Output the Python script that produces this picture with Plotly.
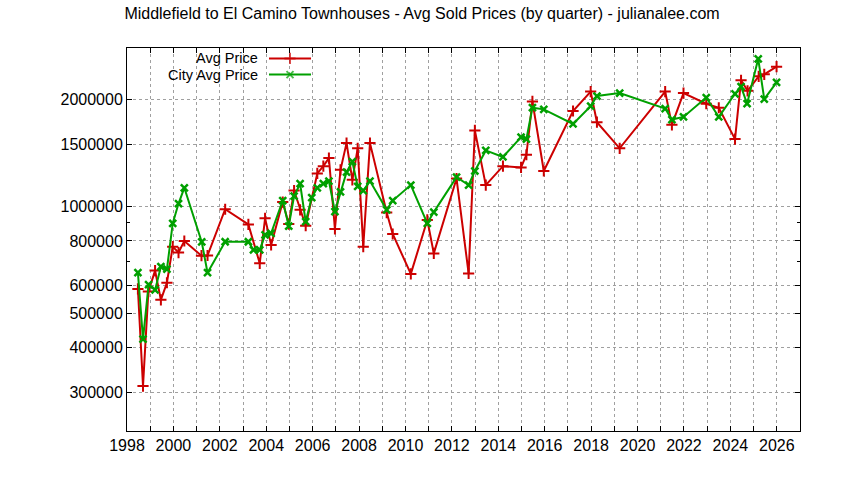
import plotly.graph_objects as go
import math

# ---------------- data ----------------
avg_dates = [1998.47, 1998.69, 1998.92, 1999.21, 1999.46, 1999.72, 1999.97, 2000.22, 2000.47,
             2001.21, 2001.47, 2002.23, 2003.23, 2003.72, 2003.95, 2004.21, 2004.71, 2004.97,
             2005.20, 2005.46, 2005.70, 2006.20, 2006.46, 2006.70, 2006.96, 2007.20, 2007.46,
             2007.71, 2007.94, 2008.18, 2008.47, 2009.19, 2009.45, 2010.23, 2010.94, 2011.22,
             2012.20, 2012.72, 2012.99, 2013.46, 2014.20, 2014.98, 2015.21, 2015.47, 2015.96,
             2017.22, 2017.98, 2018.25, 2019.23, 2021.19, 2021.48, 2021.98, 2022.96, 2023.50,
             2024.20, 2024.46, 2024.74, 2025.22, 2025.46, 2025.99]
avg_price = [586000, 312000, 576000, 660000, 546000, 610000, 771000, 742000, 800000,
             727000, 728000, 983000, 891000, 692000, 927000, 780000, 1030000, 893000,
             1110000, 979000, 883000, 1240000, 1300000, 1370000, 865000, 1270000, 1510000,
             1190000, 1460000, 771000, 1510000, 962000, 837000, 646000, 917000, 738000,
             1200000, 648000, 1640000, 1150000, 1300000, 1290000, 1400000, 1980000, 1260000,
             1860000, 2110000, 1730000, 1460000, 2110000, 1700000, 2090000, 1950000, 1900000,
             1550000, 2270000, 2120000, 2330000, 2360000, 2480000]

city_dates = [1998.47, 1998.69, 1998.93, 1999.21, 1999.46, 1999.72, 1999.97, 2000.22, 2000.47,
              2001.22, 2001.47, 2002.23, 2003.23, 2003.45, 2003.72, 2003.95, 2004.21, 2004.71,
              2004.97, 2005.20, 2005.46, 2005.70, 2005.96, 2006.20, 2006.46, 2006.70, 2006.96,
              2007.20, 2007.46, 2007.71, 2007.94, 2008.18, 2008.47, 2009.19, 2009.45, 2010.23,
              2010.94, 2011.22, 2012.20, 2012.72, 2012.99, 2013.46, 2014.20, 2014.98, 2015.21,
              2015.47, 2015.96, 2017.22, 2017.98, 2018.25, 2019.23, 2021.19, 2021.48, 2021.98,
              2022.96, 2023.50, 2024.20, 2024.46, 2024.72, 2025.20, 2025.46, 2025.99]
city_price = [651000, 423000, 603000, 582000, 677000, 666000, 897000, 1020000, 1130000,
              795000, 651000, 796000, 796000, 755000, 755000, 832000, 841000, 1040000,
              881000, 1070000, 1160000, 907000, 1060000, 1130000, 1160000, 1180000, 968000,
              1100000, 1250000, 1340000, 1140000, 1110000, 1180000, 979000, 1040000, 1150000,
              897000, 965000, 1210000, 1150000, 1260000, 1440000, 1380000, 1570000, 1550000,
              1900000, 1880000, 1710000, 1920000, 2050000, 2090000, 1890000, 1760000, 1790000,
              2030000, 1790000, 2080000, 2180000, 1950000, 2610000, 2010000, 2240000]

x_years = list(range(1998, 2027))
x_labels = [str(y) if y % 2 == 0 else "" for y in x_years]
y_ticks = [300000, 400000, 500000, 600000, 800000, 1000000, 1500000, 2000000]
y_minor = [700000, 900000]
series_names = ["Avg Price", "City Avg Price"]
title_text = "Middlefield to El Camino Townhouses - Avg Sold Prices (by quarter) - julianalee.com"

# ---------------- style ----------------
RED = "#cc0000"
GREEN = "#00a000"
FONT = "Liberation Sans, Arial, sans-serif"
W, H = 844, 480
L, R, T, B = 127, 800, 48, 431  # plot area in pixels

fig = go.Figure()
fig.add_trace(go.Scatter(x=avg_dates, y=avg_price, mode="lines+markers", name=series_names[0],
                         line=dict(color=RED, width=2),
                         marker=dict(symbol="cross-thin-open", size=8, line=dict(color=RED, width=2)),
                         showlegend=False))
fig.add_trace(go.Scatter(x=city_dates, y=city_price, mode="lines+markers", name=series_names[1],
                         line=dict(color=GREEN, width=2),
                         marker=dict(symbol="x-thin-open", size=7, line=dict(color=GREEN, width=2.5)),
                         showlegend=False))

# custom gnuplot-style key (text right, sample on the right) on a pixel overlay axis
key_rows = [(series_names[0], RED, "cross-thin-open", 8, 58.4),
            (series_names[1], GREEN, "x-thin-open", 7, 74.6)]
for name, col, sym, sz, ky in key_rows:
    fig.add_trace(go.Scatter(x=[269, 290, 311], y=[ky, ky, ky], xaxis="x2", yaxis="y2",
                             mode="lines+markers", showlegend=False, hoverinfo="skip",
                             line=dict(color=col, width=2),
                             marker=dict(symbol=sym, size=[0, sz, 0], line=dict(color=col, width=2))))
    fig.add_annotation(x=259, y=ky, xref="x2", yref="y2", text=name, showarrow=False,
                       xanchor="right", yanchor="middle", borderpad=0,
                       font=dict(size=14.5, color="black", family=FONT))

ymin, ymax = 233000, 2800000
axis_common = dict(showline=True, linecolor="black", linewidth=1, mirror="ticks",
                   ticks="inside", ticklen=5, tickcolor="black", tickwidth=1,
                   showgrid=True, gridcolor="#a0a0a0", griddash="dot", gridwidth=1,
                   zeroline=False, tickfont=dict(size=16, color="black", family=FONT))

fig.update_layout(
    width=W, height=H,
    margin=dict(l=L, r=W - R, t=T, b=H - B, pad=0),
    paper_bgcolor="white", plot_bgcolor="white",
    title=dict(text=title_text, x=0.5, xref="container", xanchor="center",
               y=1 - 13 / H, yref="container", yanchor="middle",
               font=dict(size=16, color="black", family=FONT)),
    xaxis=dict(range=[1998, 2027], tickmode="array", tickvals=x_years, ticktext=x_labels,
               **axis_common),
    yaxis=dict(type="log", range=[math.log10(ymin), math.log10(ymax)],
               tickmode="array", tickvals=y_ticks, ticktext=[str(v) for v in y_ticks],
               minor=dict(tickmode="array", tickvals=y_minor, ticks="inside", ticklen=3,
                          tickcolor="black", showgrid=False),
               **axis_common),
    xaxis2=dict(overlaying="x", range=[L, R], visible=False, fixedrange=True),
    yaxis2=dict(overlaying="y", range=[B, T], visible=False, fixedrange=True),
    showlegend=False,
)

fig.write_html("out.html", config={"displayModeBar": False},
               post_script="document.body.style.margin='0';document.body.style.padding='0';")
